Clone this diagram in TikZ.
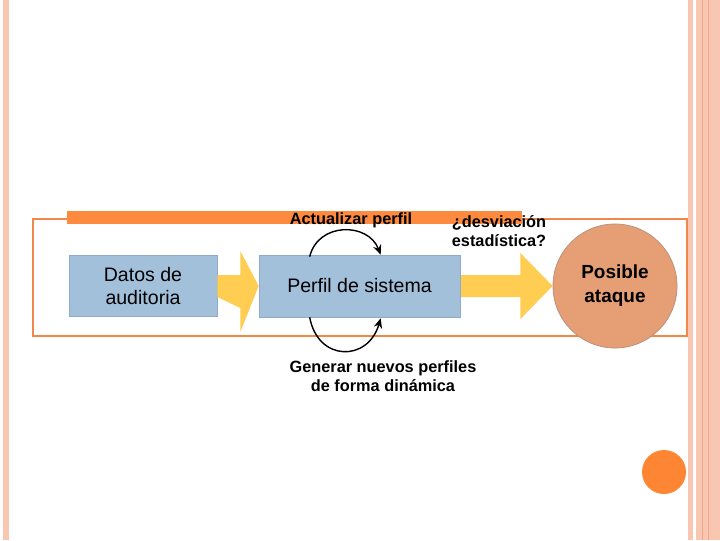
\documentclass[tikz,border=0pt]{standalone}
\usepackage{fontspec}
\setmainfont{Liberation Sans}
\usepackage{tikz}
\usetikzlibrary{calc,positioning,arrows.meta}
\definecolor{stripepink}{HTML}{F9C6B2}
\definecolor{stripeline}{HTML}{F2A88C}
\definecolor{framecolor}{HTML}{F0884A}
\definecolor{barorange}{HTML}{FD8A3E}
\definecolor{dotorange}{HTML}{FD8533}
\definecolor{boxblue}{HTML}{A3C0DB}
\definecolor{boxedge}{HTML}{8FAACB}
\definecolor{arrowyellow}{HTML}{FFCD52}
\definecolor{attackfill}{HTML}{E69E74}
\definecolor{attackedge}{HTML}{B58E7E}

\tikzset{
  stagebox/.style={rectangle, fill=boxblue, draw=boxedge, line width=0.4pt,
    align=center, font=\fontsize{13.9}{17}\selectfont, inner sep=0pt},
  looplabel/.style={align=center, font=\bfseries\fontsize{11.6}{13.5}\selectfont},
  looparrow/.style={line width=1pt, -{Stealth[length=7pt,width=6pt]}}
}

\begin{document}
\begin{tikzpicture}[x=0.025cm, y=-0.025cm]
  \useasboundingbox (0,0) rectangle (720,540);
  \fill[white] (0,0) rectangle (720,540);

  % side stripes
  \fill[stripepink] (3,0) rectangle (9,540);
  \fill[stripepink] (688,0) rectangle (693,540);
  \fill[stripepink] (696,0) rectangle (720,540);
  \draw[stripeline, line width=0.6pt] (702,0) -- (702,540);
  \draw[stripeline, line width=0.6pt] (708,0) -- (708,540);
  \fill[dotorange] (664,472) circle (22);

  % frame and title bar
  \draw[framecolor, line width=2.1pt] (33,219) rectangle (687,336);
  \fill[barorange] (67,211) rectangle (522,224);

  % stages
  \node[stagebox, minimum width=105.3pt, minimum height=43.4pt] (datos) at (143,286) {Datos de\\auditoria};
  \node[stagebox, minimum width=143pt, minimum height=44.1pt] (perfil) at (359.5,286) {Perfil de sistema};
  \node[circle, fill=attackfill, draw=attackedge, line width=0.5pt, minimum size=88.2pt,
    align=center, font=\bfseries\fontsize{13.5}{17}\selectfont, inner sep=0pt]
    (ataque) at (615,286) {Posible\\ataque};

  % block arrows
  \fill[arrowyellow] ($(datos.east)+(0,-11)$) -- ++(23,0) -- ++(0,-24) -- (perfil.west)
    -- ($(datos.east)+(23,46)$) -- ++(0,-24) -- ($(datos.east)+(0,11)$) -- cycle;
  \fill[arrowyellow] ($(perfil.east)+(0,-11)$) -- ++(60,0) -- ++(0,-22) -- (ataque.west)
    -- ($(perfil.east)+(60,33)$) -- ++(0,-22) -- ($(perfil.east)+(0,11)$) -- cycle;
  \node[stagebox, minimum width=143pt, minimum height=44.1pt] at (perfil) {Perfil de sistema};

  % loops
  \coordinate (topin) at ($(perfil.north west)+(51,2)$);
  \coordinate (topout) at ($(perfil.north west)+(122,0)$);
  \coordinate (botin) at ($(perfil.south west)+(51,0)$);
  \coordinate (botout) at ($(perfil.south west)+(122,1)$);
  \draw[looparrow] (topin) .. controls (318,222) and (368,222) .. (topout);
  \draw[looparrow] (botin) .. controls (318,362) and (368,362) .. (botout);

  % labels
  \node[looplabel] (actualizar) at (351,220) {Actualizar perfil};
  \node[looplabel] (desviacion) at (499,231) {¿desviación\\estadística?};
  \node[looplabel] (generar) at (383,376) {Generar nuevos perfiles\\de forma dinámica};
\end{tikzpicture}
\end{document}
